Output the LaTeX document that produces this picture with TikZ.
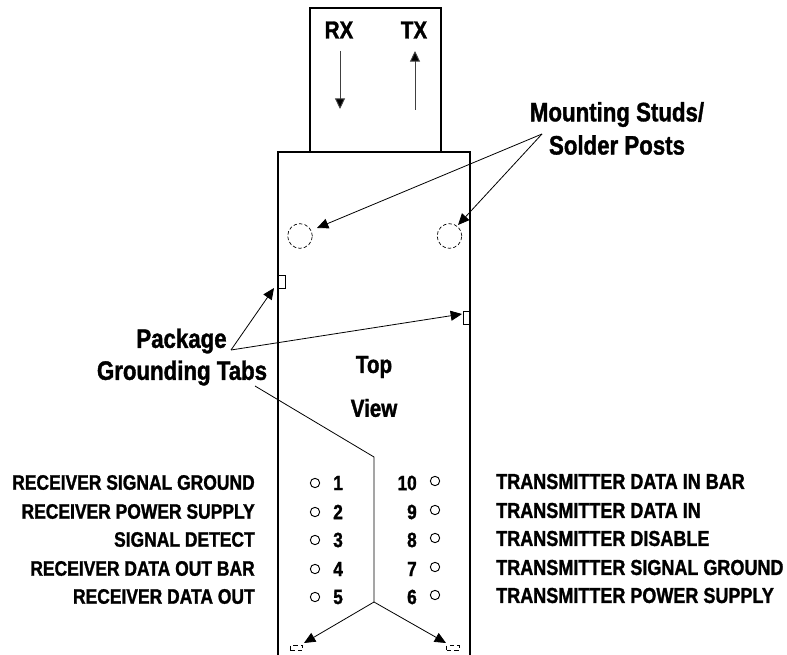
\documentclass[tikz,border=0pt]{standalone}
\usepackage{fontspec}
\setmainfont{Liberation Sans}[FakeStretch=0.834,BoldFeatures={FakeBold=1.3}]
\usetikzlibrary{arrows.meta}
\tikzset{
  x=0.75pt,y=-0.75pt,
  body/.style={line width=1.5pt,draw=black},
  big/.style={font=\fontsize{20pt}{22pt}\bfseries,inner sep=0pt},
  mid/.style={font=\fontsize{18.5pt}{20pt}\bfseries,inner sep=0pt},
  lab/.style={font=\fontsize{15.7pt}{17pt}\bfseries,inner sep=0pt},
  labr/.style={font=\fontsize{16.2pt}{17pt}\bfseries,inner sep=0pt},
  pin/.style={circle,draw,line width=0.7pt,minimum size=7pt,inner sep=0pt},
  num/.style={font=\fontsize{15.5pt}{17pt}\bfseries,inner sep=0pt},
  stud/.style={circle,draw,dash pattern=on 2.6pt off 1.6pt,line width=0.5pt,minimum size=18.5pt,inner sep=0pt},
  tabv/.style={draw,line width=0.5pt,minimum width=5pt,minimum height=9.75pt,inner sep=0pt},
  tabh/.style={draw,dash pattern=on 3.4pt off 2.4pt,line width=0.8pt,minimum width=9.5pt,minimum height=4pt,inner sep=0pt},
  con/.style={line width=0.6pt,-{Triangle[length=8.5pt,width=7.5pt]}},
  plain/.style={line width=0.6pt},
  flow/.style={line width=0.7pt,draw=black!75,-{Triangle[length=8pt,width=7.5pt,fill=black]}}
}
\begin{document}
\begin{tikzpicture}
\useasboundingbox (0,0) rectangle (787,655);
% tabs sit under the body outline
\node[tabv] (t1) at (281.5,281.5) {};
\node[tabv] (t2) at (467,317.5) {};
\node[tabh] (t3) at (296.5,648) {};
\node[tabh] (t4) at (453,648) {};
% body
\draw[body] (310,152) -- (310,8) -- (441,8) -- (441,152);
\draw[body] (278,655) -- (278,152) -- (470,152) -- (470,655);
% connector labels
\node[mid] (rx) at (339,30) {RX};
\node[mid] (tx) at (414,30) {TX};
\coordinate (rxa) at (340,51); \coordinate (rxb) at (340,109);
\coordinate (txa) at (415,110); \coordinate (txb) at (415,51);
\draw[flow] (rxa) -- (rxb);
\draw[flow] (txa) -- (txb);
% studs
\node[stud] (s1) at (300,236) {};
\node[stud] (s2) at (449.5,236) {};
\node[big] (ms1) at (617,114.5) {Mounting Studs/};
\node[big] (ms2) at (617,145) {Solder Posts};
\coordinate (msf) at (542,134);
\coordinate (s1t) at (317,228);
\coordinate (s2t) at (458,225);
\draw[con] (msf) -- (s1t);
\draw[con] (msf) -- (s2t);
% grounding tab labels
\node[big] (pk) at (181.5,341) {Package};
\node[big] (gt) at (182,373) {Grounding Tabs};
\coordinate (pf) at (231,350);
\coordinate (t1t) at (274,288);
\coordinate (t2t) at (462,314);
\draw[con] (pf) -- (t1t);
\draw[con] (pf) -- (t2t);
\coordinate (g0) at (255,386);
\coordinate (g1) at (374,457);
\coordinate (g2) at (374,602);
\coordinate (t3t) at (304,643);
\coordinate (t4t) at (446,643);
\draw[plain] (g0) -- (g1) -- (g2);
\draw[con] (g2) -- (t3t);
\draw[con] (g2) -- (t4t);
% center
\node[mid] (top) at (374,367) {Top};
\node[mid] (view) at (374,408) {View};
% left pins
\foreach \n/\y/\t in {1/483/RECEIVER SIGNAL GROUND,2/512/RECEIVER POWER SUPPLY,3/540/SIGNAL DETECT,4/569/RECEIVER DATA OUT BAR,5/597/RECEIVER DATA OUT}{
  \node[pin] (p\n) at (315,\y) {};
  \node[num,anchor=west] (n\n) at (333,\y) {\n};
  \node[lab,anchor=east] (l\n) at (255,\y-0.5) {\t};
}
% right pins
\foreach \n/\y/\t in {10/481/TRANSMITTER DATA IN BAR,9/510/TRANSMITTER DATA IN,8/538/TRANSMITTER DISABLE,7/567/TRANSMITTER SIGNAL GROUND,6/595/TRANSMITTER POWER SUPPLY}{
  \node[pin] (p\n) at (435,\y) {};
  \node[num,anchor=east] (n\n) at (417,\y+2) {\n};
  \node[labr,anchor=west] (l\n) at (496,\y+0.5) {\t};
}
\end{tikzpicture}
\end{document}
